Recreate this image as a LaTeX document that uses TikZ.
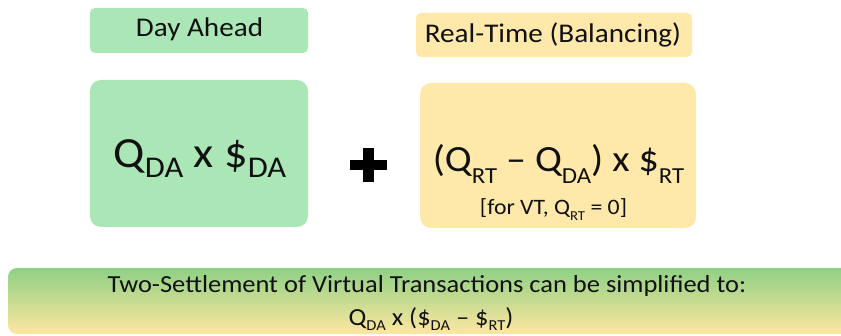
\documentclass[tikz,border=0pt]{standalone}
\usepackage{fontspec}
\setmainfont[FakeStretch=1.08]{Carlito}
\definecolor{dagreen}{HTML}{ABE7B6}
\definecolor{rtyellow}{HTML}{FFE9AA}
\definecolor{bandgreen}{HTML}{8FD184}
\definecolor{bandyellow}{HTML}{FFE6A0}
\definecolor{txt}{HTML}{111111}
% lowered, reduced subscript: scale factor, drop, text
\newcommand\lowsubx[3]{\raisebox{-#2em}{\scalebox{#1}{#3}}}
\newcommand\lowsub[1]{\lowsubx{0.62}{0.3}{#1}}
\newcommand\px[1]{\fontsize{#1}{#1}\selectfont}
\begin{document}
\begin{tikzpicture}[x=1pt,y=1pt,
  labelbox/.style={rounded corners=5pt, draw=none, inner sep=0pt},
  bigbox/.style={rounded corners=11pt, draw=none, inner sep=0pt},
  txtnode/.style={inner sep=0pt, text=txt, anchor=base}]
\useasboundingbox (0,0) rectangle (841,335);
\fill[white] (0,0) rectangle (841,335);

% headings
\node[labelbox, fill=dagreen, minimum width=218pt, minimum height=45pt] (dahead) at (199,304.5) {};
\node[txtnode, font=\px{27}] (dalabel) at (199.5,298) {Day Ahead};
\node[labelbox, fill=rtyellow, minimum width=276pt, minimum height=44pt] (rthead) at (554,300) {};
\node[txtnode, font=\px{27}] (rtlabel) at (553,292) {Real-Time (Balancing)};

% formula boxes
\node[bigbox, fill=dagreen, minimum width=218pt, minimum height=147pt] (dabox) at (199,181.5) {};
\node[txtnode, font=\px{43}] (daform) at (200,167)
  {Q\lowsubx{0.7}{0.23}{DA} x \$\lowsubx{0.7}{0.23}{DA}};
\node[bigbox, fill=rtyellow, minimum width=276pt, minimum height=145pt] (rtbox) at (558,179.5) {};
\node[txtnode, font=\px{37}] (rtform) at (558.5,163) {(Q\lowsub{RT} -- Q\lowsub{DA}) x \$\lowsub{RT}};
\node[txtnode, font=\px{22}] (rtnote) at (553.5,121) {[for VT, Q\lowsub{RT} = 0]};

% plus sign
\coordinate (pc) at (368.5,170);
\draw[line width=10pt, black] ([xshift=-18.5pt]pc) -- ([xshift=18.5pt]pc);
\draw[line width=11pt, black] ([yshift=-17pt]pc) -- ([yshift=17pt]pc);

% summary band
\shade[top color=bandgreen, bottom color=bandyellow, rounded corners=9pt] (8,1) rectangle (860,67);
\node[txtnode, font=\px{24.5}] (sum1) at (427,42) {Two-Settlement of Virtual Transactions can be simplified to:};
\node[txtnode, font=\px{24.5}] (sum2) at (431,9.5)
  {Q\lowsubx{0.62}{0.22}{DA} x (\$\lowsubx{0.62}{0.22}{DA} -- \$\lowsubx{0.62}{0.22}{RT})};
\end{tikzpicture}
\end{document}
